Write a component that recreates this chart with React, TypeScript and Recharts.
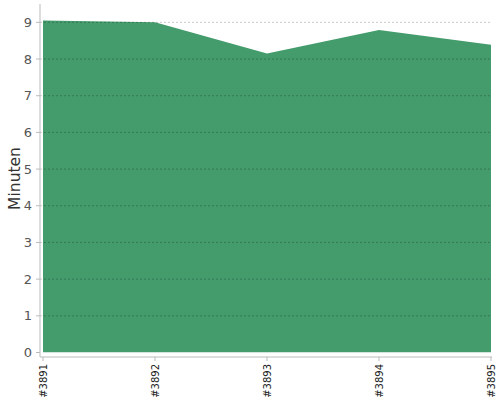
import React from 'react';
import { AreaChart, Area, XAxis, YAxis, ReferenceLine } from 'recharts';

const builds = ['#3891', '#3892', '#3893', '#3894', '#3895'];
const minutes = [9.05, 9.0, 8.15, 8.79, 8.39];
const yTicks = [0, 1, 2, 3, 4, 5, 6, 7, 8, 9];
const gridValues = [1, 2, 3, 4, 5, 6, 7, 8, 9];

const data = builds.map((b, i) => ({ build: b, minutes: minutes[i] }));

const XTick = (props: any) => {
  const { x, y, payload } = props;
  const ty = y + 1;
  return (
    <text
      x={x}
      y={ty}
      transform={`rotate(-90 ${x} ${ty})`}
      textAnchor="end"
      dy="0.35em"
      fontSize={10}
      fill="#222"
      fontFamily="DejaVu Sans"
    >
      {payload.value}
    </text>
  );
};

export default function App() {
  return (
    <div style={{ position: 'absolute', left: 0, top: 0, width: 500, height: 400, background: '#fff' }}>
      <AreaChart width={500} height={400} data={data} margin={{ top: 4, right: 8, bottom: 0, left: 0 }}>
        <XAxis
          dataKey="build"
          height={43}
          padding={{ left: 3, right: 1 }}
          stroke="#bbb"
          tickLine={{ stroke: '#bbb' }}
          tickSize={4}
          tick={<XTick />}
          interval={0}
        />
        <YAxis
          domain={[0, 9.5]}
          ticks={yTicks}
          width={40}
          padding={{ bottom: 4.5, top: 0 }}
          stroke="#bbb"
          tickLine={{ stroke: '#bbb' }}
          tickSize={4}
          tickMargin={4}
          tick={{ fill: '#555', fontSize: 13, fontFamily: 'DejaVu Sans' }}
          allowDataOverflow
          label={{
            value: 'Minuten',
            angle: -90,
            position: 'insideLeft',
            offset: 0,
            dx: 14,
            dy: -2,
            style: { fill: '#333', fontSize: 15.5, fontFamily: 'DejaVu Sans', textAnchor: 'middle' },
          }}
        />
        <Area
          type="linear"
          dataKey="minutes"
          fill="#449b6c"
          fillOpacity={1}
          stroke="none"
          isAnimationActive={false}
        />
        {gridValues.map((v) => (
          <ReferenceLine key={v} y={v} stroke="#000" strokeOpacity={0.22} strokeDasharray="2 2" />
        ))}
      </AreaChart>
    </div>
  );
}
